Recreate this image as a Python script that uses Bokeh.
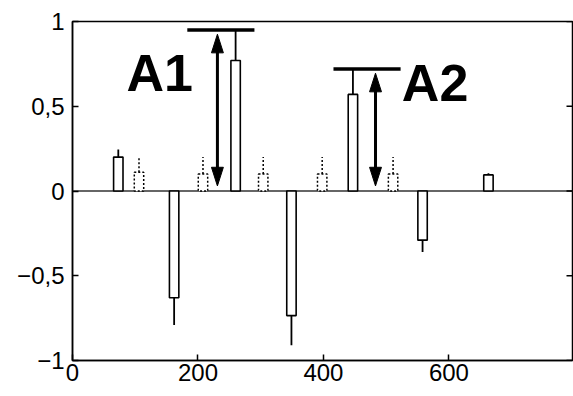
import math
from bokeh.plotting import figure
from bokeh.models import Range1d, FixedTicker, Span
from bokeh.core.properties import value
from bokeh.embed import file_html
from bokeh.resources import INLINE

# ---- data ----
solid_x = [73, 162, 260, 349, 447, 558, 663]
solid_val = [0.20, -0.63, 0.77, -0.735, 0.57, -0.29, 0.095]
solid_err = [0.245, -0.79, 0.95, -0.91, 0.72, -0.36, 0.105]

dashed_x = [106, 208, 304, 398, 511]
dashed_val = [0.11, 0.10, 0.10, 0.10, 0.10]
dashed_err = [0.20, 0.20, 0.20, 0.20, 0.20]

x_ticks = [0, 200, 400, 600]
x_tick_labels = ["0", "200", "400", "600"]
y_ticks = [-1, -0.5, 0, 0.5, 1]
y_tick_labels = ["\u22121", "\u22120,5", "0", "0,5", "1"]

annot_labels = ["A1", "A2"]
annot_bar = [2, 4]          # which solid bar each annotation refers to
annot_arrow_x = [231, 483]
annot_line_x0 = [183, 416]
annot_line_x1 = [290, 523]
annot_text_x = [139, 578]
annot_text_y = [0.695, 0.636]

X_MAX = 797

# ---- figure ----
p = figure(width=573, height=396, x_range=Range1d(0, X_MAX), y_range=Range1d(-1, 1),
           output_backend="svg", toolbar_location=None,
           min_border_left=72, min_border_right=1, min_border_top=21, min_border_bottom=36)
p.xgrid.visible = False
p.ygrid.visible = False
p.outline_line_color = "black"
p.outline_line_width = 1.5
p.outline_line_alpha = 1.0
p.background_fill_color = "white"
p.border_fill_color = "white"

FONT = "Liberation Sans"

for ax, ticks, labels in ((p.xaxis[0], x_ticks, x_tick_labels), (p.yaxis[0], y_ticks, y_tick_labels)):
    ax.ticker = FixedTicker(ticks=ticks)
    ax.major_label_overrides = dict(zip(ticks, labels))
    ax.major_tick_in = 6
    ax.major_tick_out = 0
    ax.minor_tick_in = 0
    ax.minor_tick_out = 0
    ax.axis_line_color = "black"
    ax.axis_line_width = 1.5
    ax.major_tick_line_width = 1.5
    ax.major_label_text_font = FONT
    ax.major_label_text_font_size = "24px"
    ax.major_label_text_color = "black"
p.xaxis.major_label_standoff = 3
p.yaxis.major_label_standoff = 8

# inward ticks on the right edge of the box
p.ray(x=[X_MAX] * len(y_ticks), y=y_ticks, length=6, length_units="screen", angle=math.pi,
      line_color="black", line_width=1.5)

# zero line
p.add_layout(Span(location=0, dimension="width", line_color="#333333", line_width=1.5, level="underlay"))

# bars
W = 15
p.vbar(x=solid_x, top=solid_val, bottom=0, width=W, fill_color="white",
       line_color="black", line_width=1.6)
p.segment(x0=solid_x, y0=solid_val, x1=solid_x, y1=solid_err, line_color="black", line_width=1.8)

p.vbar(x=dashed_x, top=dashed_val, bottom=0, width=W, fill_color="white",
       line_color="black", line_width=1.5, line_dash="2 2")
p.segment(x0=dashed_x, y0=dashed_val, x1=dashed_x, y1=dashed_err, line_color="black",
          line_width=1.5, line_dash="2 2")

# annotations A1 / A2
tops = [solid_err[i] for i in annot_bar]
p.segment(x0=annot_line_x0, y0=tops, x1=annot_line_x1, y1=tops, line_color="black", line_width=3.5)

HL = 0.11   # head length (y units)
HW = 9.5    # head half width (x units)
arrow_top = [t - 0.025 for t in tops]
arrow_bot = [0.03 for _ in tops]
p.segment(x0=annot_arrow_x, y0=[b + HL * 0.9 for b in arrow_bot], x1=annot_arrow_x,
          y1=[t - HL * 0.9 for t in arrow_top], line_color="black", line_width=3)
xs, ys = [], []
for ax_, t, b in zip(annot_arrow_x, arrow_top, arrow_bot):
    xs.append([ax_, ax_ - HW, ax_ + HW]); ys.append([t, t - HL, t - HL])
    xs.append([ax_, ax_ - HW, ax_ + HW]); ys.append([b, b + HL, b + HL])
p.patches(xs=xs, ys=ys, fill_color="black", line_color="black", line_width=1)

p.text(x=annot_text_x, y=annot_text_y, text=annot_labels,
       text_font=value("Liberation Sans"), text_font_style="bold",
       text_font_size="52px", text_baseline="alphabetic", text_align="center",
       text_color="black")

open("out.html", "w").write(file_html(p, INLINE))
